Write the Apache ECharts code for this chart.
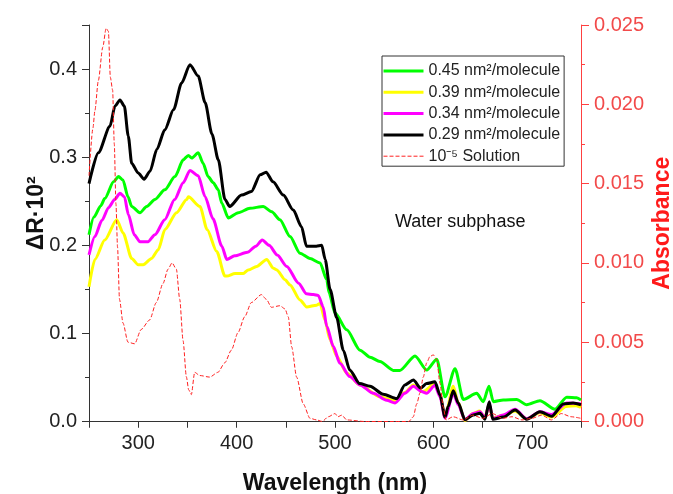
<!DOCTYPE html>
<html>
<head>
<meta charset="utf-8">
<script src="https://cdn.jsdelivr.net/npm/echarts@6/dist/echarts.min.js"></script>
<style>html,body{margin:0;padding:0;background:#fff;overflow:hidden}#c{width:673px;height:494px}</style>
</head>
<body>
<div id="c"></div>
<script>
// ---- data (wavelength in nm, ΔR·10² or absorbance) ----
const seriesNames = ['0.45 nm²/molecule', '0.39 nm²/molecule', '0.34 nm²/molecule', '0.29 nm²/molecule', '10⁻⁵ Solution'];

const wl045 = [250,255,262,266,275,280,284.5,289.6,293.4,301.8,308.6,317,327,337.4,345.8,351,354.4,361,366,371,376.3,381.4,384.9,391.6,401.7,413.6,427,435.7,444,454.3,464.4,474.6,484.8,491.6,494,500,511.9,525.4,535.6,545.7,559.3,566,581.3,593.2,603.4,611.8,622,630.4,644,650.7,656.5,660.9,671,684.6,694.8,708.3,723.6,735.5,745.6,750];
const r045 = [0.212,0.232,0.245,0.253,0.272,0.278,0.274,0.255,0.244,0.237,0.244,0.252,0.263,0.278,0.297,0.302,0.299,0.305,0.293,0.278,0.271,0.263,0.248,0.231,0.237,0.242,0.244,0.238,0.229,0.210,0.191,0.185,0.180,0.161,0.146,0.123,0.104,0.081,0.073,0.068,0.058,0.058,0.0744,0.0585,0.0707,0.028,0.060,0.025,0.032,0.0225,0.040,0.0225,0.0244,0.025,0.019,0.0236,0.014,0.0275,0.027,0.0244];

const wl039 = [250,256,266,278.2,284.6,293.4,300,305,313.6,320.4,327.2,339,349.3,351,362.8,370,379.8,388.2,390,398.4,406.8,411.9,420.4,430.6,437.3,440.8,449.2,454.3,464.4,471.2,481.4,484.8,489.8,494.9,501.7,511.9,525.4,545.7,561,571,579.6,589.5,601.6,606.7,611.8,620.2,625,632,640,647,652,656.8,660,671,683,695,708,720,735,745,750];
const r039 = [0.153,0.184,0.206,0.229,0.214,0.185,0.178,0.178,0.185,0.195,0.218,0.237,0.252,0.255,0.244,0.218,0.193,0.165,0.165,0.168,0.168,0.172,0.176,0.184,0.174,0.172,0.161,0.155,0.138,0.130,0.132,0.134,0.115,0.093,0.074,0.055,0.0415,0.028,0.0236,0.033,0.0415,0.034,0.043,0.030,0.005,0.040,0.022,0.001,0.009,0.012,0.004,0.019,0.004,0.007,0.012,0.003,0.010,0.005,0.017,0.018,0.016];

const wl034 = [250,256,263,270,276,281.5,286,290,296,301.8,310,317,327,337,345.8,352.6,361,368,376,385,390,398,411,419.5,426,433,441.3,451,463,471,478,483,488,491.6,498.3,505,515,525.4,539,552.5,561,571,579.6,588,593,601.6,606.7,611.8,620.2,625.3,632,640.5,647.4,652.4,656.8,660.3,671,683,694.8,708.3,720,735.5,750];
const r034 = [0.189,0.210,0.228,0.243,0.252,0.259,0.255,0.235,0.212,0.204,0.204,0.212,0.229,0.252,0.271,0.285,0.279,0.255,0.230,0.199,0.184,0.188,0.192,0.199,0.206,0.200,0.189,0.176,0.157,0.145,0.144,0.143,0.130,0.108,0.085,0.066,0.051,0.0415,0.032,0.024,0.021,0.032,0.040,0.034,0.032,0.041,0.028,0.004,0.032,0.019,0.002,0.009,0.011,0.004,0.020,0.003,0.0074,0.014,0.003,0.011,0.008,0.021,0.020];

const wl029 = [250,259.5,271.3,276.4,281.5,285.9,289.9,293.4,300,306,312,319,327,336,344,352.6,361,368,375,381.4,388.2,393,405,415,424,430,437,447.5,457.6,466,471,481,486.5,490,495,501.7,508.4,515,525,535.6,549,562.7,571,579.6,587,593,601.6,606.7,611.8,615,620.2,625.3,632,640.5,647.4,652.4,656.8,660.3,671,683,694.8,708.3,720.2,732,742,750];
const r029 = [0.270,0.305,0.335,0.358,0.365,0.358,0.324,0.293,0.282,0.275,0.284,0.309,0.331,0.354,0.384,0.405,0.392,0.362,0.326,0.297,0.252,0.244,0.257,0.261,0.280,0.283,0.272,0.257,0.240,0.221,0.199,0.199,0.200,0.184,0.150,0.118,0.081,0.0585,0.043,0.040,0.031,0.026,0.0415,0.047,0.038,0.043,0.045,0.030,0.005,0.017,0.035,0.021,0.002,0.0074,0.0093,0.0025,0.0225,0.0025,0.005,0.013,0.0025,0.011,0.006,0.020,0.021,0.019];

const wlSol = [250,254,256,259.5,264,267.4,269.7,271.7,274,275.7,277.4,279,281,284.6,289.6,296.4,303,311.6,318.4,325.2,330.3,334.4,338.8,342.2,345.6,349,351.3,354,357.4,362.5,372.7,381,388,394.7,401.4,408.2,415,425.2,430.3,435.4,444,449.2,452.5,456,461,467.8,474.6,481.4,487,493.2,500,503,506.8,512,530,560,575,579.6,583,586.4,589.7,593.2,596.5,599.9,603.4,606.7,610,612.8,620,630,640,650,660,670,680,690,700,710,720,730,740,750];
const absSol = [0.0155,0.0185,0.0196,0.0215,0.0236,0.0248,0.0246,0.0217,0.0209,0.0175,0.0137,0.0110,0.0077,0.0062,0.0050,0.0049,0.0058,0.0064,0.0075,0.0087,0.0096,0.0100,0.0096,0.0077,0.0051,0.0028,0.0020,0.0017,0.0031,0.0029,0.0028,0.0031,0.0037,0.0045,0.0056,0.0066,0.0075,0.0080,0.0077,0.0072,0.0073,0.0071,0.0066,0.0047,0.0028,0.0011,0.0002,0.0001,0.0000,0.0003,0.0005,0.0003,0.0004,0.0001,0.0000,0.0000,0.0000,0.0003,0.0011,0.0018,0.0028,0.0037,0.0041,0.0042,0.0039,0.0024,0.0009,0.0001,0.0003,0.0001,0.0004,0.0002,0.0005,0.0002,0.0003,0.0001,0.0002,0.0004,0.0001,0.0005,0.0003,0.0002];

const xTicks = [300,400,500,600,700];
const yTicks = [0, 0.1, 0.2, 0.3, 0.4];
const absTicks = [0, 0.005, 0.01, 0.015, 0.02, 0.025];

// ---- chart ----
const FONT = '"Liberation Sans", Arial, sans-serif';
const zip = (a, b) => a.map((x, i) => [x, b[i]]);
const onTick = (v, list) => list.some(t => Math.abs(t - v) < 1e-9);
const chart = echarts.init(document.getElementById('c'), null, {renderer: 'canvas'});

function lineSeries(name, wl, vals, color, width, yIdx, dash) {
  return {
    name: name, type: 'line', xAxisIndex: 0, yAxisIndex: yIdx,
    data: zip(wl, vals), symbol: 'none', showSymbol: false,
    smooth: 0.25, smoothMonotone: 'x',
    lineStyle: {color: color, width: width, type: dash || 'solid', join: 'round'},
    itemStyle: {color: color},
    emphasis: {disabled: true}, silent: true
  };
}

chart.setOption({
  animation: false,
  backgroundColor: '#ffffff',
  grid: {left: 89, top: 25, width: 492, height: 396.5, containLabel: false, outerBoundsMode: 'none'},
  legend: {
    orient: 'vertical', left: 382, top: 56,
    padding: [7, 4, 2, 0],
    itemWidth: 40, itemHeight: 16, itemGap: 5.3,
    borderColor: '#333', borderWidth: 1,
    itemStyle: {opacity: 0},
    lineStyle: {width: 3},
    textStyle: {fontSize: 16, color: '#222', fontFamily: FONT},
    data: seriesNames.map((n, i) => i === 4 ? {name: n, lineStyle: {width: 1}} : {name: n})
  },
  xAxis: [
    {
      type: 'value', position: 'bottom', min: 250, max: 750, interval: 50,
      axisLine: {lineStyle: {color: '#333', width: 1}},
      axisTick: {show: true, length: 6, inside: false, lineStyle: {color: '#333'}},
      axisLabel: {
        fontSize: 20, color: '#222', fontFamily: FONT, margin: 12,
        formatter: v => (onTick(v, xTicks) ? String(Math.round(v)) : '')
      },
      splitLine: {show: false},
      name: 'Wavelength (nm)', nameLocation: 'middle', nameGap: 51, nameMoveOverlap: false,
      nameTextStyle: {fontSize: 23, fontWeight: 'bold', color: '#111', fontFamily: FONT}
    },
    {
      type: 'value', position: 'top', min: 250, max: 750, interval: 50,
      axisLine: {show: true, lineStyle: {color: '#333', width: 1}},
      axisTick: {show: true, inside: true, length: 6, lineStyle: {color: '#333'}},
      axisLabel: {show: false}, splitLine: {show: false}
    }
  ],
  yAxis: [
    {
      type: 'value', position: 'left', min: 0, max: 0.45, interval: 0.1,
      axisLine: {show: true, lineStyle: {color: '#333', width: 1}},
      axisTick: {show: true, length: 7, lineStyle: {color: '#333'}},
      minorTick: {show: true, splitNumber: 2, length: 4, lineStyle: {color: '#333'}},
      axisLabel: {fontSize: 20, color: '#222', fontFamily: FONT, margin: 12,
        formatter: v => (onTick(v, yTicks) ? v.toFixed(1) : '')},
      splitLine: {show: false}, minorSplitLine: {show: false},
      name: 'ΔR·10²', nameLocation: 'middle', nameGap: 41, nameRotate: 90, nameMoveOverlap: false,
      nameTextStyle: {fontSize: 23, fontWeight: 'bold', color: '#111', fontFamily: FONT, padding: [0, 0, 0, 20]}
    },
    {
      type: 'value', position: 'right', min: 0, max: 0.025, interval: 0.005,
      axisLine: {show: true, lineStyle: {color: '#ff4040', width: 1}},
      axisTick: {show: true, length: 8, lineStyle: {color: '#ff4040'}},
      minorTick: {show: true, splitNumber: 2, length: 4, lineStyle: {color: '#ff4040'}},
      axisLabel: {fontSize: 20, color: '#f24a4a', fontFamily: FONT, margin: 13,
        formatter: v => (onTick(v, absTicks) ? v.toFixed(3) : '')},
      splitLine: {show: false}, minorSplitLine: {show: false},
      name: 'Absorbance', nameLocation: 'middle', nameGap: 70, nameRotate: 90, nameMoveOverlap: false,
      nameTextStyle: {fontSize: 23, fontWeight: 'bold', color: '#ff1a1a', fontFamily: FONT}
    }
  ],
  graphic: [
    {type: 'text', left: 395, top: 213, silent: true,
     style: {text: 'Water subphase', fontSize: 18, fill: '#111', font: '18px ' + FONT}}
  ],
  series: [
    lineSeries(seriesNames[0], wl045, r045, '#00ff00', 3, 0),
    lineSeries(seriesNames[1], wl039, r039, '#ffff00', 3, 0),
    lineSeries(seriesNames[2], wl034, r034, '#ff00ff', 3, 0),
    lineSeries(seriesNames[3], wl029, r029, '#000000', 3, 0),
    lineSeries(seriesNames[4], wlSol, absSol, '#ff2020', 1, 1, [4, 2])
  ]
});
</script>
</body>
</html>
